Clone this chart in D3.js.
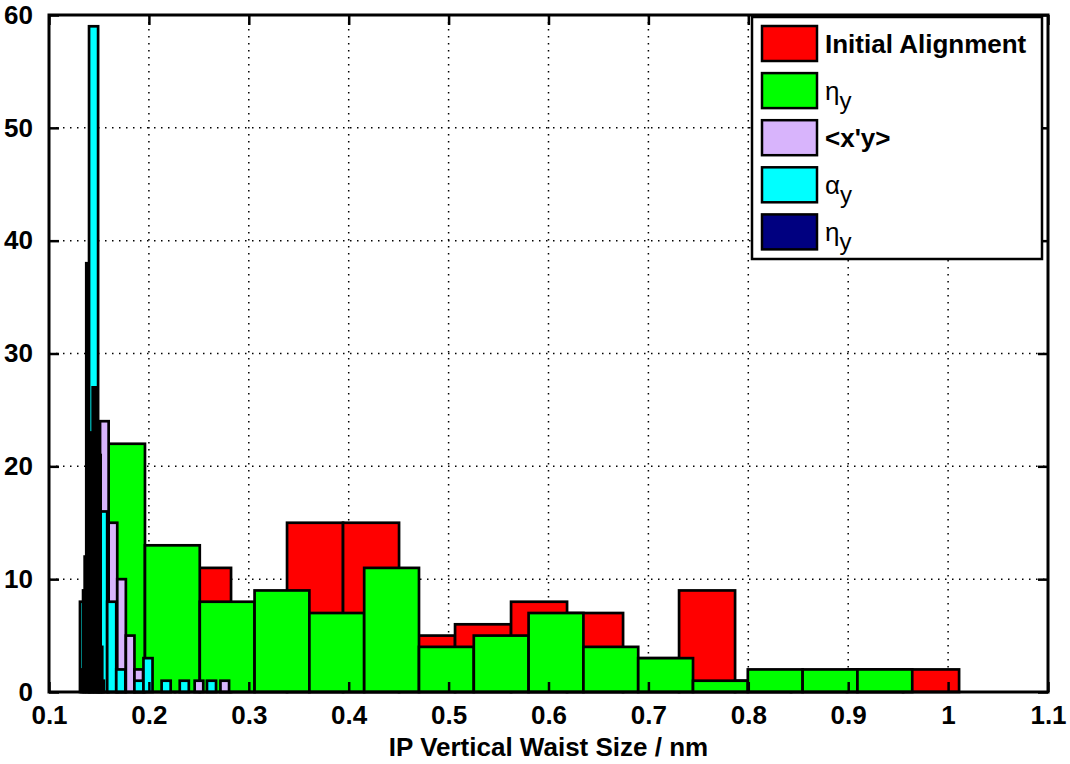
<!DOCTYPE html>
<html>
<head>
<meta charset="utf-8">
<script src="https://cdn.jsdelivr.net/npm/d3@7"></script>
<style>
  body { margin: 0; background: #fff; }
  svg text { font-family: "Liberation Sans", Arial, sans-serif; }
</style>
</head>
<body>
<svg id="chart" width="1070" height="764"></svg>
<script>
// histogram counts, one array per series (15 bins each)
const redCounts = [8, 11, 7, 15, 15, 5, 6, 8, 7, 3, 9, 1, 1, 2, 2];
const greenCounts = [22, 13, 8, 9, 7, 11, 4, 5, 7, 4, 3, 1, 2, 2, 2];
const purpleCounts = [24, 15, 10, 5, 2, 0, 0, 0, 0, 0, 0, 1, 0, 0, 1];
const cyanCounts = [8, 59, 16, 8, 2, 0, 1, 3, 0, 1, 0, 1, 0, 0, 1];
const navyCounts = [2, 9, 12, 38, 18, 15, 23, 27, 27, 27, 22, 21, 4, 1, 0];

// first bin edge and bin width of each series (nm)
const seriesNames = ["Initial Alignment", "eta", "xpy", "alpha", "eta2"];
const binStarts = [0.1701, 0.1412, 0.1511, 0.1310, 0.1325];
const binWidths = [0.05606, 0.05486, 0.00861, 0.00908, 0.0016];
const seriesColors = ["#ff0000", "#00ff00", "#d8b4fc", "#00ffff", "#000080"];

const xTicks = [0.1, 0.2, 0.3, 0.4, 0.5, 0.6, 0.7, 0.8, 0.9, 1, 1.1];
const yTicks = [0, 10, 20, 30, 40, 50, 60];

const svg = d3.select("#chart");
const pLeft = 49, pRight = 1048, pTop = 15, pBottom = 692;

const x = d3.scaleLinear().domain([0.1, 1.1]).range([pLeft, pRight]);
const y = d3.scaleLinear().domain([0, 60]).range([pBottom, pTop]);

// dotted grid
const grid = svg.append("g").attr("stroke", "#000").attr("stroke-width", 1.5)
  .attr("stroke-dasharray", "1.5,5.5");
grid.selectAll(".gx").data(xTicks.slice(1, -1)).enter().append("line")
  .attr("x1", d => x(d)).attr("x2", d => x(d))
  .attr("y1", pTop).attr("y2", pBottom);
grid.selectAll(".gy").data(yTicks.slice(1, -1)).enter().append("line")
  .attr("x1", pLeft).attr("x2", pRight)
  .attr("y1", d => y(d)).attr("y2", d => y(d));

// bars
const allCounts = [redCounts, greenCounts, purpleCounts, cyanCounts, navyCounts];
allCounts.forEach((counts, s) => {
  const bins = counts.map((c, i) => ({
    x0: binStarts[s] + i * binWidths[s],
    x1: binStarts[s] + (i + 1) * binWidths[s],
    c: c
  })).filter(b => b.c > 0);
  svg.append("g").selectAll("rect").data(bins).enter().append("rect")
    .attr("x", d => x(d.x0))
    .attr("width", d => x(d.x1) - x(d.x0))
    .attr("y", d => y(d.c))
    .attr("height", d => y(0) - y(d.c))
    .attr("fill", seriesColors[s])
    .attr("stroke", "#000")
    .attr("stroke-width", 2.7);
});

// axes with inward ticks
const fmt = d => String(d);
const axB = svg.append("g").attr("transform", `translate(0,${pBottom})`)
  .call(d3.axisBottom(x).tickValues(xTicks).tickFormat(fmt).tickSizeInner(-10).tickSizeOuter(0).tickPadding(14));
const axT = svg.append("g").attr("transform", `translate(0,${pTop})`)
  .call(d3.axisTop(x).tickValues(xTicks).tickFormat("").tickSizeInner(-10).tickSizeOuter(0));
const axL = svg.append("g").attr("transform", `translate(${pLeft},0)`)
  .call(d3.axisLeft(y).tickValues(yTicks).tickFormat(fmt).tickSizeInner(-10).tickSizeOuter(0).tickPadding(16));
const axR = svg.append("g").attr("transform", `translate(${pRight},0)`)
  .call(d3.axisRight(y).tickValues(yTicks).tickFormat("").tickSizeInner(-10).tickSizeOuter(0));
[axB, axT, axL, axR].forEach(a => {
  a.select(".domain").remove();
  a.selectAll("line").attr("stroke", "#000").attr("stroke-width", 2.5);
  a.selectAll("text").attr("fill", "#000").style("font-size", "26px").style("font-weight", "bold");
});

svg.append("rect").attr("x", pLeft).attr("y", pTop)
  .attr("width", pRight - pLeft).attr("height", pBottom - pTop)
  .attr("fill", "none").attr("stroke", "#000").attr("stroke-width", 3);

// axis title
svg.append("text").attr("x", (pLeft + pRight) / 2).attr("y", 756)
  .attr("text-anchor", "middle").style("font-size", "26px").style("font-weight", "bold")
  .text("IP Vertical Waist Size / nm");

// legend
const legend = svg.append("g");
legend.append("rect").attr("x", 752).attr("y", 17).attr("width", 290).attr("height", 242)
  .attr("fill", "#fff").attr("stroke", "#000").attr("stroke-width", 2.5);
const rows = legend.selectAll(".row").data(seriesNames).enter().append("g")
  .attr("transform", (d, i) => `translate(0,${43.5 + i * 47.1})`);
rows.append("rect").attr("x", 762).attr("y", -17.5).attr("width", 55).attr("height", 35)
  .attr("fill", (d, i) => seriesColors[i]).attr("stroke", "#000").attr("stroke-width", 2.5);
rows.each(function (d) {
  const t = d3.select(this).append("text").attr("x", 825).attr("y", 9)
    .style("font-size", "26px").attr("fill", "#000");
  if (d === "Initial Alignment") {
    t.style("font-weight", "bold").text(d);
  } else if (d === "xpy") {
    t.style("font-weight", "bold").text("<x'y>");
  } else {
    t.append("tspan").text(d === "alpha" ? "α" : "η");
    t.append("tspan").attr("dy", 9).style("font-size", "24px").text("y");
  }
});
</script>
</body>
</html>
